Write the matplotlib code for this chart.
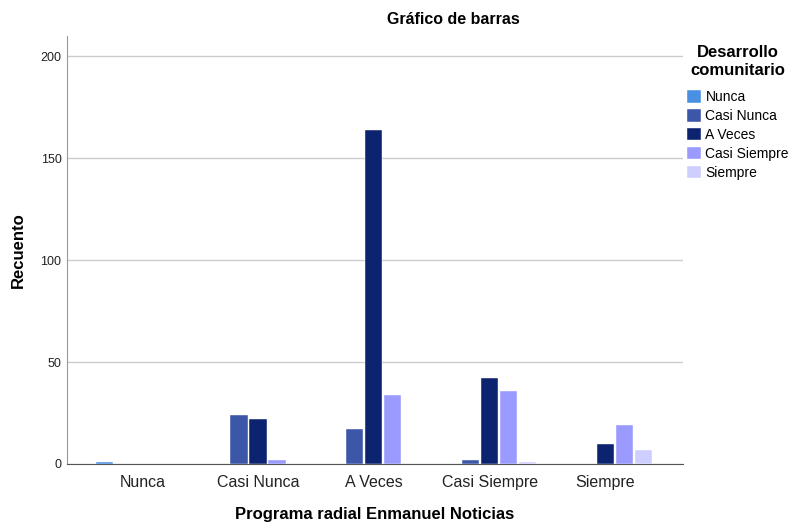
import numpy as np
import matplotlib
matplotlib.use("Agg")
import matplotlib.pyplot as plt

plt.rcParams['font.family'] = ['Liberation Sans', 'DejaVu Sans']

categorias = ["Nunca", "Casi Nunca", "A Veces", "Casi Siempre", "Siempre"]
series = ["Nunca", "Casi Nunca", "A Veces", "Casi Siempre", "Siempre"]
# recuento por serie (Desarrollo comunitario) en cada categoria del programa
nunca = [1, 0, 0, 0, 0]
casi_nunca = [0, 24, 17, 2, 0]
a_veces = [0, 22, 164, 42, 10]
casi_siempre = [0, 2, 34, 36, 19]
siempre = [0, 0, 0, 1, 7]
valores = [nunca, casi_nunca, a_veces, casi_siempre, siempre]
colores = ["#4a90e2", "#3d57a8", "#0c2470", "#9b9bff", "#cfcfff"]

fig = plt.figure(figsize=(7.92, 5.24), dpi=100)
ax = fig.add_axes([67/792, 1-464/524, (683-67)/792, (464-36)/524])

x = np.arange(len(categorias))
paso = 0.164
ancho = 0.148
for i, (nombre, vals, col) in enumerate(zip(series, valores, colores)):
    v = np.array(vals, dtype=float)
    mask = v > 0
    ax.bar(x[mask] + (i - 2) * paso, v[mask], width=ancho, color=col,
           edgecolor="white", linewidth=0.3, label=nombre, zorder=3)

ax.set_xlim(-0.65, 4.67)
ax.set_ylim(0, 210)
ax.set_yticks([0, 50, 100, 150, 200])
ax.set_xticks(x)
ax.set_xticklabels(categorias, fontsize=11.5, color="#222222")
ax.tick_params(axis="y", labelsize=9, length=0, pad=4, colors="#222222")
ax.tick_params(axis="x", length=0, pad=8)
ax.yaxis.grid(True, color="#cccccc", linewidth=1, zorder=0)
for s in ["top", "right"]:
    ax.spines[s].set_visible(False)
ax.spines["left"].set_color("#999999")
ax.spines["bottom"].set_color("#555555")

fig.text(18/792, 1-250/524, "Recuento", fontsize=12, fontweight="bold",
         rotation=90, ha="center", va="center")
fig.text(375/792, 1-515/524, "Programa radial Enmanuel Noticias", fontsize=12,
         fontweight="bold", ha="center", va="center")
fig.text(453/792, 1-20/524, "Gráfico de barras", fontsize=11.5,
         fontweight="bold", ha="center", va="center")

leg = fig.legend(loc="upper left", bbox_to_anchor=(686/792, 1-44/524),
                 frameon=False, title="Desarrollo\ncomunitario", fontsize=10,
                 handlelength=1.0, handleheight=1.0, handletextpad=0.3,
                 labelspacing=0.35, borderaxespad=0, borderpad=0.1)
leg.get_title().set_fontweight("bold")
leg.get_title().set_fontsize(12)
leg.get_title().set_multialignment("center")
leg._legend_box.sep = 9

fig.savefig("out.png", dpi=100)
